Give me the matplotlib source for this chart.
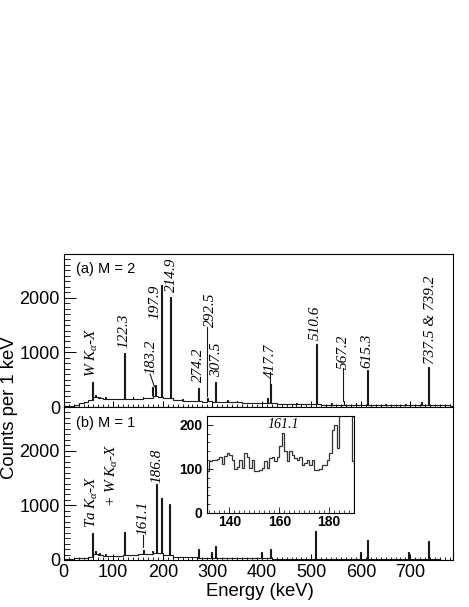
import numpy as np
import matplotlib
matplotlib.use("Agg")
import matplotlib.pyplot as plt
from matplotlib.ticker import MultipleLocator, FixedLocator

plt.rcParams['font.family'] = ['Liberation Sans', 'DejaVu Sans']
plt.rcParams['mathtext.fontset'] = 'custom'
plt.rcParams['mathtext.it'] = 'Liberation Serif:italic'
plt.rcParams['mathtext.rm'] = 'Liberation Serif'
plt.rcParams['mathtext.default'] = 'it'

# ---------------- data ----------------
# background (10 keV bins, 0 .. 790 keV)
bg_edges = np.arange(0, 791, 10)
bg_a = [10, 25, 45, 70, 95, 130, 190, 165, 150, 145,
        140, 150, 150, 145, 150, 150, 160, 170, 200, 190,
        170, 165, 130, 120, 118, 112, 110, 108, 100, 105,
        100, 95, 95, 90, 88, 85, 82, 80, 78, 75,
        75, 80, 65, 62, 60, 55, 55, 52, 50, 48,
        50, 48, 45, 45, 42, 42, 45, 40, 42, 40,
        42, 45, 38, 38, 36, 36, 35, 35, 34, 33,
        33, 32, 35, 35, 30, 30, 28, 28, 26]
bg_b = [15, 20, 30, 38, 45, 60, 110, 90, 80, 75,
        75, 80, 85, 95, 100, 105, 110, 105, 130, 120,
        100, 90, 60, 55, 50, 50, 48, 45, 45, 42,
        42, 40, 38, 36, 35, 34, 32, 30, 30, 28,
        28, 30, 24, 22, 22, 20, 20, 20, 18, 18,
        18, 18, 17, 16, 16, 16, 15, 15, 15, 14,
        14, 15, 13, 13, 12, 12, 12, 12, 11, 11,
        11, 10, 10, 12, 10, 10, 9, 9, 8]

# peaks: energy (keV) and height (counts per keV)
peak_e_a = [58, 65, 73, 122, 180, 186, 198, 215, 272, 291, 306,
            411, 417, 510, 566, 613, 723, 737,
            85, 140, 160, 240, 330, 350, 470, 540, 590, 650, 690]
peak_h_a = [463, 215, 185, 994, 371, 402, 2233, 2010, 342, 170, 463,
            160, 415, 1153, 115, 677, 100, 727,
            175, 185, 190, 145, 120, 115, 75, 70, 70, 60, 55]
peak_e_b = [58, 65, 72, 85, 122, 161, 180, 187, 197, 214, 272, 299, 306,
            400, 417, 509, 599, 613, 696, 736]
peak_h_b = [490, 170, 130, 110, 518, 180, 170, 1385, 1129, 1025, 196, 152, 262,
            150, 201, 536, 150, 366, 140, 348]

# inset: 1 keV bins 131 .. 190 keV of M = 1 spectrum
inset_edges = np.arange(131, 191, 1)
inset_counts = [95, 117, 120, 121, 122, 128, 112, 130, 136, 132,
                120, 100, 104, 121, 102, 136, 128, 102, 121, 95,
                95, 98, 102, 117, 102, 125, 128, 117, 128, 151,
                181,
                140, 117, 140, 132, 125, 121, 128, 110, 113, 121,
                110, 121, 98, 98, 100, 110, 110, 121, 136,
                189, 200, 147,
                320, 800, 1385, 1200, 500, 119]

# ---------------- figure ----------------
W, H = 469, 607
fig = plt.figure(figsize=(W / 100, H / 100), dpi=100)

def fx(px):
    return px / W

def fy(py):
    return 1 - py / H

L, R = 63.7, 453
TOP, MID, BOT = 254, 407, 560
ax_a = fig.add_axes([fx(L), fy(MID), fx(R - L), (MID - TOP) / H])
ax_b = fig.add_axes([fx(L), fy(BOT), fx(R - L), (BOT - MID) / H])

XMAX = 786
YMAX = 2800
LC = '#1a1a1a'
HALF_W = 0.8


def draw_spectrum(ax, bg, pe, ph):
    ax.stairs(bg, bg_edges, color=LC, lw=0.8)
    for e, h in zip(pe, ph):
        base = bg[min(int(e // 10), len(bg) - 1)]
        ax.stairs([h], [e - HALF_W, e + HALF_W], baseline=base, color=LC, lw=0.8)


for ax, bg, pe, ph in ((ax_a, bg_a, peak_e_a, peak_h_a), (ax_b, bg_b, peak_e_b, peak_h_b)):
    draw_spectrum(ax, bg, pe, ph)
    ax.set_xlim(0, XMAX)
    ax.set_ylim(0, YMAX)
    ax.yaxis.set_major_locator(FixedLocator([0, 1000, 2000]))
    ax.yaxis.set_minor_locator(MultipleLocator(100))
    ax.xaxis.set_major_locator(MultipleLocator(100))
    ax.xaxis.set_minor_locator(MultipleLocator(10))
    ax.tick_params(axis='both', which='both', direction='in', top=False, right=False)
    ax.tick_params(axis='y', which='major', length=8.6, width=0.7, labelsize=13, pad=2.7)
    ax.tick_params(axis='y', which='minor', length=4.0, width=0.6)
    ax.tick_params(axis='x', which='major', length=4.5, width=0.7, labelsize=13, pad=3.0)
    ax.tick_params(axis='x', which='minor', length=2.3, width=0.6)
    for s in ax.spines.values():
        s.set_linewidth(0.8)

ax_a.tick_params(axis='x', labelbottom=False)

ax_a.text(0.032, 0.905, "(a) M = 2", transform=ax_a.transAxes, fontsize=10.5,
          ha='left', va='center')
ax_b.text(0.032, 0.895, "(b) M = 1", transform=ax_b.transAxes, fontsize=10.5,
          ha='left', va='center')

lab_kw = dict(rotation=90, ha='center', va='center', fontsize=11,
              family='Liberation Serif', style='italic')

labels_a = [
    (r"$W\ K_{\alpha}$-$X$", 56.5, 1006),
    ("122.3", 121.7, 1400),
    ("183.2", 177, 924),
    ("197.9", 184.3, 1927),
    ("214.9", 218, 2416),
    ("274.2", 272, 778),
    ("292.5", 295.4, 1775),
    ("307.5", 308.5, 860),
    ("417.7", 416.5, 842),
    ("510.6", 507.4, 1546),
    ("567.2", 564.5, 1006),
    ("615.3", 611.7, 1025),
    ("737.5 & 739.2", 739.6, 1592),
]
for t, x, y in labels_a:
    ax_a.text(x, y, t, **lab_kw)

# leader lines, panel a
ax_a.plot([174.5, 183.1], [604, 371], color=LC, lw=0.8)
ax_a.plot([289.3, 289.3], [1464, 201], color=LC, lw=0.8)
ax_a.plot([416.5, 416.5], [586, 420], color=LC, lw=0.8)
ax_a.plot([564.5, 564.5], [708, 115], color=LC, lw=0.8)

labels_b = [
    (r"$Ta\ K_{\alpha}$-$X$", 56.5, 1061),
    (r"+ $W\ K_{\alpha}$-$X$", 97, 1555),
    ("161.1", 160.7, 769),
    ("186.8", 187.8, 1720),
]
for t, x, y in labels_b:
    ax_b.text(x, y, t, **lab_kw)
ax_b.plot([160.7, 160.7], [458, 238], color=LC, lw=0.8)

fig.text(fx(260), fy(591), "Energy (keV)", fontsize=13.3, ha='center', va='center')
fig.text(fx(10), fy(408), "Counts per 1 keV", fontsize=13.3, rotation=90,
         ha='center', va='center')

# ---------------- inset ----------------
IL, IR, IT, IB = 207, 354, 416, 513
ax_i = fig.add_axes([fx(IL), fy(IB), fx(IR - IL), (IB - IT) / H])
ax_i.stairs(inset_counts, inset_edges, color='#333333', lw=0.9)
ax_i.set_xlim(131, 190)
ax_i.set_ylim(0, 220)
ax_i.xaxis.set_major_locator(FixedLocator([140, 160, 180]))
ax_i.xaxis.set_minor_locator(MultipleLocator(2))
ax_i.yaxis.set_major_locator(FixedLocator([0, 100, 200]))
ax_i.yaxis.set_minor_locator(MultipleLocator(20))
ax_i.tick_params(axis='both', which='both', direction='in', top=False, right=False)
ax_i.tick_params(axis='both', which='major', length=4.3, width=0.6, labelsize=10, pad=1.5)
ax_i.tick_params(axis='both', which='minor', length=2.0, width=0.5)
ax_i.tick_params(axis='y', which='major', pad=3.5)
for lab in ax_i.get_xticklabels() + ax_i.get_yticklabels():
    lab.set_fontweight('bold')
for s in ax_i.spines.values():
    s.set_linewidth(0.8)
ax_i.text(161.5, 200, "161.1", fontsize=10, family='Liberation Serif', style='italic',
          ha='center', va='center')

fig.savefig("out.png", dpi=100)
